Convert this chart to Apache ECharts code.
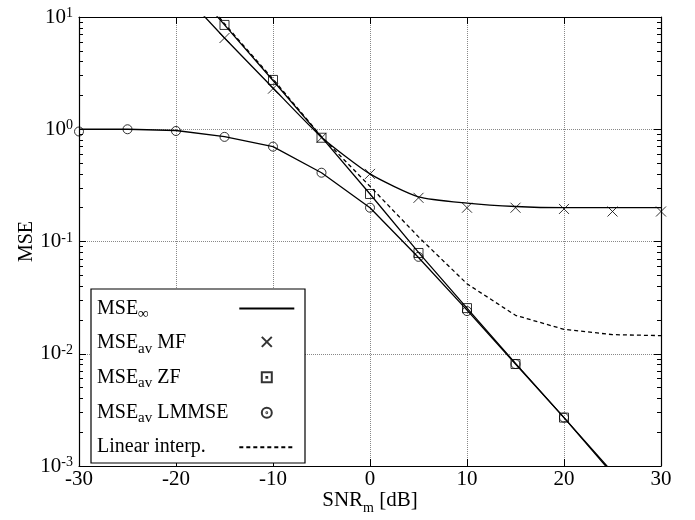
<!DOCTYPE html>
<html>
<head>
<meta charset="utf-8">
<style>
  html, body { margin: 0; padding: 0; background: #fff; }
  #main { width: 695px; height: 520px; }
</style>
<script src="https://cdn.jsdelivr.net/npm/echarts@6/dist/echarts.min.js"></script>
</head>
<body>
<div id="main"></div>
<script>
// SNR grid of the simulated points (dB)
var snrDb = [-30, -25, -20, -15, -10, -5, 0, 5, 10, 15, 20, 25, 30];

// simulated MSE_av (markers), null = off the plot
var mseMfSim    = [null, null, null, 6.5, 2.3, 0.84, 0.40, 0.245, 0.20, 0.20, 0.195, 0.185, 0.185];
var mseZfSim    = [null, null, null, 8.5, 2.75, 0.84, 0.265, 0.079, 0.0255, 0.0081, 0.0027, null, null];
var mseLmmseSim = [0.955, 1.0, 0.965, 0.855, 0.70, 0.41, 0.20, 0.073, 0.024, 0.0081, 0.0027, null, null];

// MSE_inf curves (solid)
var mfTheoryX    = [-20, -15, -10, -5, 0, 5, 10, 15, 20, 25, 30];
var mfTheoryY    = [19, 6.5, 2.33, 0.85, 0.40, 0.25, 0.22, 0.205, 0.2, 0.2, 0.2];
var zfTheoryX    = [-16, -15, -10, -5, 0, 5, 10, 15, 20, 25];
var zfTheoryY    = [10.7, 8.5, 2.72, 0.85, 0.265, 0.08, 0.0255, 0.0082, 0.0027, 0.00085];
var lmmseTheoryX = [-30, -25, -20, -15, -10, -5, 0, 5, 10, 15, 20, 25];
var lmmseTheoryY = [1.0, 1.0, 0.975, 0.86, 0.70, 0.41, 0.2, 0.072, 0.0245, 0.0081, 0.0027, 0.00088];

// linear interpolation (dashed)
var interpX = [-16, -15, -10, -5, 0, 5, 10, 15, 20, 25, 30];
var interpY = [11.2, 8.7, 2.8, 0.86, 0.31, 0.11, 0.042, 0.022, 0.0165, 0.0148, 0.0145];

// axis ticks
var yExponents = ['-3', '-2', '-1', '0', '1'];
var yMinorTicks = [0.002, 0.003, 0.004, 0.005, 0.006, 0.007, 0.008, 0.009,
                   0.02, 0.03, 0.04, 0.05, 0.06, 0.07, 0.08, 0.09,
                   0.2, 0.3, 0.4, 0.5, 0.6, 0.7, 0.8, 0.9,
                   2, 3, 4, 5, 6, 7, 8, 9];

// legend labels
var legendNames = ['MSEinf', 'MF', 'ZF', 'LMMSE', 'Linear interp.'];
var legendTexts = {
  'MSEinf': '{m|MSE}{s|∞}',
  'MF': '{m|MSE}{s|av}{m| MF}',
  'ZF': '{m|MSE}{s|av}{m| ZF}',
  'LMMSE': '{m|MSE}{s|av}{m| LMMSE}',
  'Linear interp.': '{m|Linear interp.}'
};

var serif = "'Liberation Serif', 'DejaVu Serif', serif";

function pairs(xs, ys) {
  var out = [];
  for (var i = 0; i < xs.length; i++) {
    if (ys[i] != null) out.push([xs[i], ys[i]]);
  }
  return out;
}

var dom = document.getElementById('main');
var myChart = echarts.init(dom, null, { renderer: 'canvas' });

var lineBase = {
  type: 'line',
  showSymbol: false,
  symbol: 'none',
  silent: true,
  clip: true,
  lineStyle: { color: '#000', width: 1.3 },
  itemStyle: { color: '#000' },
  emphasis: { disabled: true },
  z: 2
};

function markSeries(name, symbol, size, ys) {
  return {
    name: name,
    type: 'scatter',
    symbol: symbol,
    symbolSize: size,
    silent: true,
    itemStyle: { color: 'transparent', borderColor: '#000', borderWidth: 1 },
    emphasis: { disabled: true },
    data: pairs(snrDb, ys),
    z: 3
  };
}

var yBase = {
  type: 'log',
  logBase: 10,
  min: 0.001,
  max: 10
};

var noDot = { color: 'transparent', borderColor: 'transparent', borderWidth: 0 };

var option = {
  animation: false,
  backgroundColor: '#fff',
  grid: { left: 79, right: 34, top: 17, bottom: 52 },
  xAxis: [{
    type: 'value',
    min: -30, max: 30, interval: 10,
    name: '{a|SNR}{s|m}{a| [dB]}',
    nameLocation: 'middle',
    nameGap: 19,
    nameMoveOverlap: false,
    nameTextStyle: {
      rich: {
        a: { fontFamily: serif, fontSize: 21, color: '#000', lineHeight: 30 },
        s: { fontFamily: serif, fontSize: 14, color: '#000', lineHeight: 14, verticalAlign: 'bottom' }
      }
    },
    axisLine: { show: true, onZero: false, lineStyle: { color: '#000', width: 1.2 } },
    axisTick: { show: true, inside: true, length: 7, lineStyle: { color: '#000' } },
    axisLabel: { fontFamily: serif, fontSize: 21, color: '#000', margin: 3 },
    splitLine: { show: true, lineStyle: { color: '#888', type: 'dotted', width: 1 } }
  }, {
    type: 'value',
    position: 'top',
    min: -30, max: 30, interval: 10,
    axisLine: { show: true, onZero: false, lineStyle: { color: '#000', width: 1.2 } },
    axisTick: { show: true, inside: true, length: 7, lineStyle: { color: '#000' } },
    axisLabel: { show: false },
    splitLine: { show: false }
  }],
  yAxis: [Object.assign({}, yBase, {
    position: 'left',
    interval: 1,
    name: 'MSE',
    nameLocation: 'middle',
    nameGap: 42,
    nameMoveOverlap: false,
    nameTextStyle: { fontFamily: serif, fontSize: 20, color: '#000' },
    axisLine: { show: true, onZero: false, lineStyle: { color: '#000', width: 1.2 } },
    axisTick: { show: true, inside: true, length: 7, lineStyle: { color: '#000' } },
    axisLabel: {
      margin: 6,
      formatter: function (value, index) {
        return '{b|10}{e|' + yExponents[index] + '}';
      },
      rich: {
        b: { fontFamily: serif, fontSize: 21, color: '#000', lineHeight: 21 },
        e: { fontFamily: serif, fontSize: 14, color: '#000', lineHeight: 14, verticalAlign: 'top' }
      }
    },
    splitLine: { show: true, lineStyle: { color: '#888', type: 'dotted', width: 1 } }
  }), Object.assign({}, yBase, {
    position: 'left',
    offset: 0,
    axisLine: { show: false, onZero: false },
    axisTick: { show: true, inside: true, length: 4, customValues: yMinorTicks, lineStyle: { color: '#000' } },
    axisLabel: { show: false },
    splitLine: { show: false }
  }), Object.assign({}, yBase, {
    position: 'right',
    interval: 1,
    axisLine: { show: true, onZero: false, lineStyle: { color: '#000', width: 1.2 } },
    axisTick: { show: true, inside: true, length: 7, lineStyle: { color: '#000' } },
    axisLabel: { show: false },
    splitLine: { show: false }
  }), Object.assign({}, yBase, {
    position: 'right',
    offset: 0,
    axisLine: { show: false, onZero: false },
    axisTick: { show: true, inside: true, length: 4, customValues: yMinorTicks, lineStyle: { color: '#000' } },
    axisLabel: { show: false },
    splitLine: { show: false }
  })],
  legend: [{
    // text column
    data: legendNames,
    orient: 'vertical',
    left: 92,
    top: 298.4,
    padding: 0,
    itemGap: 11.7,
    itemWidth: 0,
    itemHeight: 10,
    icon: 'none',
    selectedMode: false,
    formatter: function (name) { return legendTexts[name]; },
    textStyle: {
      rich: {
        m: { fontFamily: serif, fontSize: 20, color: '#000', lineHeight: 26 },
        s: { fontFamily: serif, fontSize: 15, color: '#000', lineHeight: 15, verticalAlign: 'bottom' }
      }
    },
    z: 5
  }, {
    // symbol column
    data: [
      { name: 'MSEinf', itemStyle: noDot },
      { name: 'MF', icon: 'path://M0,0L10,10M10,0L0,10' },
      { name: 'ZF', icon: 'path://M0,0H10V10H0Z M4.6,4.6H5.4V5.4H4.6Z' },
      { name: 'LMMSE', icon: 'path://M0,5A5,5 0 1 1 10,5A5,5 0 1 1 0,5Z M4.6,5A0.4,0.4 0 1 1 5.4,5A0.4,0.4 0 1 1 4.6,5Z' },
      { name: 'Linear interp.', itemStyle: noDot }
    ],
    orient: 'vertical',
    left: 238.3,
    top: 303.4,
    padding: 0,
    itemGap: 23.45,
    itemWidth: 55,
    itemHeight: 10,
    selectedMode: false,
    formatter: function () { return ''; },
    textStyle: { fontSize: 10 },
    z: 5
  }],
  graphic: [{
    type: 'rect',
    shape: { x: 91, y: 289, width: 214, height: 174 },
    style: { fill: '#fff', stroke: '#000', lineWidth: 1.2 },
    z: 4,
    silent: true
  }],
  series: [
    Object.assign({}, lineBase, { name: 'MSEinf', data: pairs(mfTheoryX, mfTheoryY), smooth: 0.2 }),
    Object.assign({}, lineBase, { name: 'MSEinf', data: pairs(zfTheoryX, zfTheoryY) }),
    Object.assign({}, lineBase, { name: 'MSEinf', data: pairs(lmmseTheoryX, lmmseTheoryY) }),
    Object.assign({}, lineBase, {
      name: 'Linear interp.',
      data: pairs(interpX, interpY),
      lineStyle: { color: '#000', width: 1.3, type: [4, 3] }
    }),
    markSeries('MF', 'path://M0,0L10,10M10,0L0,10', 10, mseMfSim),
    markSeries('ZF', 'rect', 9, mseZfSim),
    markSeries('LMMSE', 'circle', 9, mseLmmseSim)
  ]
};

myChart.setOption(option);

window.addEventListener('resize', myChart.resize);
</script>
</body>
</html>
